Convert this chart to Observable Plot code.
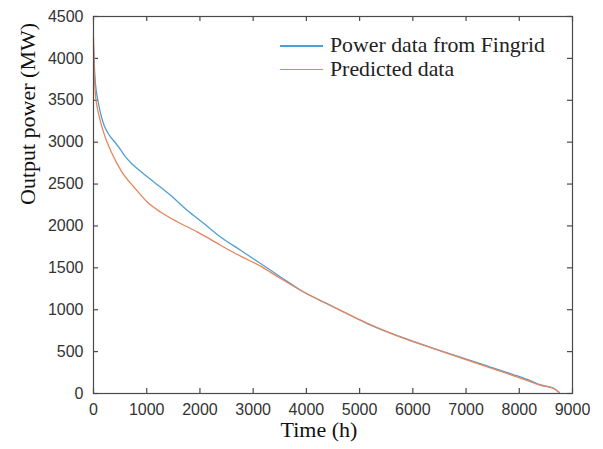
<!DOCTYPE html>
<html><head><meta charset="utf-8">
<script src="https://cdn.jsdelivr.net/npm/d3@7"></script>
<script src="https://cdn.jsdelivr.net/npm/@observablehq/plot@0.6"></script>
<style>
body{margin:0;background:#fff;}
#wrap{position:relative;width:603px;height:449px;}
#legend{position:absolute;left:280px;top:34px;font-family:"Liberation Serif",serif;font-size:21.8px;color:#222;line-height:23.5px;}
#legend .row{display:flex;align-items:center;white-space:nowrap;}
#legend .sw{display:inline-block;width:43px;height:1.5px;margin-right:7px;}
</style></head><body><div id="wrap"><div id="legend"></div></div>
<script>
const seriesNames = ["Power data from Fingrid", "Predicted data"];
const seriesColors = ["#4f9fd3", "#e8845a"];

const fingridHours = [0, 10, 30, 60, 94, 150, 200, 300, 414, 508, 595, 700, 821, 1134, 1447, 1761, 2074, 2387, 2763, 3139, 3515, 3891, 4517, 5144, 5771, 6397, 7148, 7776, 8152, 8402, 8652, 8746];
const fingridMW    = [4150, 4000, 3750, 3580, 3460, 3300, 3200, 3080, 2990, 2910, 2830, 2755, 2685, 2525, 2366, 2187, 2029, 1869, 1710, 1551, 1391, 1233, 1033, 835, 675, 537, 380, 248, 168, 102, 60, 15];

const predictedHours = [0, 10, 30, 60, 94, 188, 344, 532, 758, 1009, 1259, 1573, 1949, 2200, 2387, 2763, 3139, 3515, 3891, 4517, 5144, 5771, 6397, 7148, 7776, 8152, 8402, 8652, 8746];
const predictedMW    = [4250, 3950, 3620, 3450, 3340, 3120, 2870, 2645, 2465, 2286, 2167, 2050, 1930, 1840, 1770, 1640, 1520, 1372, 1233, 1030, 838, 672, 535, 372, 238, 155, 98, 58, 12];

const xTicks = [0, 1000, 2000, 3000, 4000, 5000, 6000, 7000, 8000, 9000];
const yTicks = [0, 500, 1000, 1500, 2000, 2500, 3000, 3500, 4000, 4500];
const xLabel = "Time (h)";
const yLabel = "Output power (MW)";

const rows = [
  ...fingridHours.map((h, i) => ({series: seriesNames[0], h, mw: fingridMW[i]})),
  ...predictedHours.map((h, i) => ({series: seriesNames[1], h, mw: predictedMW[i]}))
];

const W = 603, H = 449, mL = 93, mR = 31, mT = 16, mB = 56;
const plotW = W - mL - mR, plotH = H - mT - mB, tickLen = 5, axisColor = "#4a4a4a";

const chart = Plot.plot({
  width: W, height: H,
  marginLeft: mL, marginRight: mR, marginTop: mT, marginBottom: mB,
  style: {fontFamily: "'Liberation Sans', Arial, sans-serif", fontSize: "16px", color: "#333", background: "#fff"},
  x: {domain: [0, 9000]},
  y: {domain: [0, 4500]},
  color: {domain: seriesNames, range: seriesColors},
  marks: [
    Plot.axisX(xTicks, {tickSize: 0, tickPadding: 10, tickFormat: d => String(d), label: null, fill: "#333"}),
    Plot.axisY(yTicks, {tickSize: 0, tickPadding: 10, tickFormat: d => String(d), label: null, fill: "#333"}),
    Plot.tickX(xTicks, {x: d => d, insetTop: plotH - tickLen, stroke: axisColor, strokeWidth: 1.2}),
    Plot.tickX(xTicks, {x: d => d, insetBottom: plotH - tickLen, stroke: axisColor, strokeWidth: 1.2}),
    Plot.tickY(yTicks, {y: d => d, insetRight: plotW - tickLen, stroke: axisColor, strokeWidth: 1.2}),
    Plot.tickY(yTicks, {y: d => d, insetLeft: plotW - tickLen, stroke: axisColor, strokeWidth: 1.2}),
    Plot.line(rows, {x: "h", y: "mw", z: "series", stroke: "series", strokeWidth: 1.3, curve: "monotone-x"}),
    Plot.frame({stroke: axisColor, strokeWidth: 1.2}),
    Plot.text([xLabel], {text: d => d, frameAnchor: "bottom", dy: 43, dx: -14, fontFamily: "'Liberation Serif', serif", fontSize: 22, fill: "#111"}),
    Plot.text([yLabel], {text: d => d, frameAnchor: "left", rotate: -90, dx: -66, fontFamily: "'Liberation Serif', serif", fontSize: 22, fill: "#111"})
  ]
});
document.getElementById("wrap").prepend(chart);

const legend = document.getElementById("legend");
seriesNames.forEach((name, i) => {
  const row = document.createElement("div");
  row.className = "row";
  const sw = document.createElement("span");
  sw.className = "sw";
  sw.style.background = seriesColors[i];
  row.appendChild(sw);
  row.appendChild(document.createTextNode(name));
  legend.appendChild(row);
});
</script>
</body></html>
